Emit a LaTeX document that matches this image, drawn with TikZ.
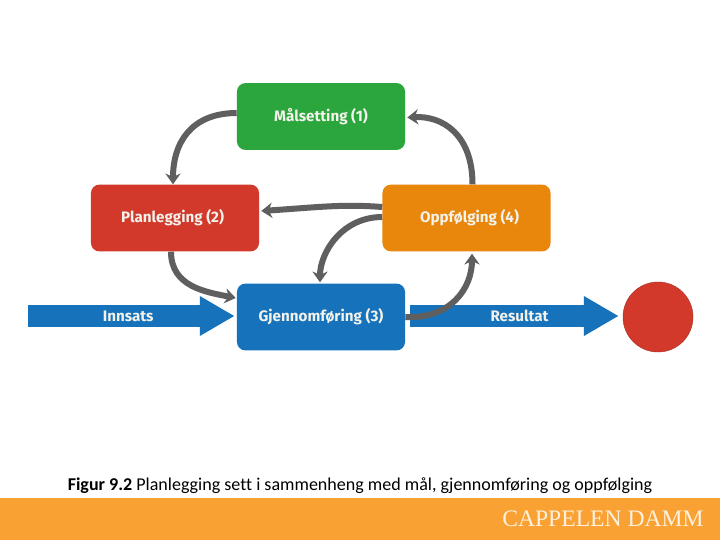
\documentclass[tikz,border=0pt]{standalone}
\usepackage{fontspec}
\setmainfont[Ligatures=NoCommon]{Carlito}
\newfontfamily\boxfont{Fira Sans}
\newfontfamily\logofont{Liberation Serif}
\usepackage{xcolor}
\usetikzlibrary{arrows.meta, calc}
\definecolor{planblue}{HTML}{1672BA}
\definecolor{plangreen}{HTML}{2BA63C}
\definecolor{planred}{HTML}{D2392B}
\definecolor{planorange}{HTML}{E8870C}
\definecolor{plangray}{HTML}{5F5F5F}
\definecolor{planbar}{HTML}{F9A233}
\definecolor{planlogo}{HTML}{FDF0DC}
\definecolor{plantext}{HTML}{F3F3EC}
\tikzset{
  stagebox/.style={rectangle, rounded corners=6pt, minimum width=4.2cm, minimum height=1.67cm,
    inner sep=0pt, text=plantext, font=\boxfont\fontsize{10.8}{12}\selectfont\bfseries},
  flow/.style={draw=plangray, line width=0.15cm, -{Stealth[length=0.27cm, width=0.38cm]}},
  band/.style={draw=planblue, line width=0.55cm, -{Triangle[length=0.87cm, width=0.93cm]}},
  bandtext/.style={text=plantext, font=\boxfont\fontsize{10.8}{12}\selectfont\bfseries}
}
\begin{document}
\begin{tikzpicture}[x=0.025cm, y=-0.025cm]
  \useasboundingbox (0, 0) rectangle (720, 540);
  \fill[white] (0, 0) rectangle (720, 540);

  % Stages
  \node[stagebox, fill=plangreen] (maal) at (321, 116.5) {Målsetting (1)};
  \node[stagebox, fill=planred] (plan) at (175, 218) {\hspace*{-0.12cm}Planlegging (2)};
  \node[stagebox, fill=planorange] (oppf) at (466.5, 218) {\hspace*{0.15cm}Oppfølging (4)};
  \node[stagebox, fill=planblue] (gjen) at (321, 317) {Gjennomføring (3)};
  \node[circle, fill=planred, draw=planred!80!black, line width=0.3pt, minimum size=1.75cm, inner sep=0pt] (result) at (658, 317) {};
  \coordinate (start) at (28, 316);

  % Input and output
  \draw[band, shorten >=0.05cm] (start) -- (gjen.west |- start)
    node[pos=0.48, bandtext] (innsats) {Innsats};
  \draw[band, shorten <=0.12cm, shorten >=0.1cm] (gjen.east |- start) -- (result.west |- start)
    node[pos=0.525, bandtext] (resultat) {Resultat};

  % Cycle
  \draw[flow] ($(maal.west)+(0,-3.5)$) .. controls +(-45,0) and +(0,-42) .. ($(plan.north)+(-2,0)$);
  \draw[flow] ($(plan.south)+(-4,0)$) .. controls +(0,35) and +(-30,-6) .. ($(gjen.west)+(-1,-19)$);
  \draw[flow] ($(gjen.east)+(0,0)$) .. controls +(45,2) and +(0,35) .. ($(oppf.north |- oppf.south)+(5.5,2)$);
  \draw[flow] ($(oppf.north)+(6,0)$) .. controls +(0,-50) and +(35,-2) .. ($(maal.east)+(2,1)$);
  \draw[flow] ($(oppf.west)+(0,-11)$) .. controls +(-40,-3) and +(60,-4) .. ($(plan.east)+(2,-7)$);
  \draw[flow] ($(oppf.west)+(0,-1)$) .. controls +(-40,0) and +(0,-30) .. ($(gjen.north)+(-1,-1)$);

  % Footer
  \fill[planbar] (0, 498) rectangle (720, 540);
  \node[font=\fontsize{12.83}{15}\selectfont, text=black] (caption) at (360, 486)
    {\textbf{Figur 9.2} Planlegging sett i sammenheng med mål, gjennomføring og oppfølging};
  \node[font=\logofont\fontsize{16.8}{18}\selectfont, text=planlogo] (logo) at (603, 518.5) {CAPPELEN DAMM};
\end{tikzpicture}
\end{document}
